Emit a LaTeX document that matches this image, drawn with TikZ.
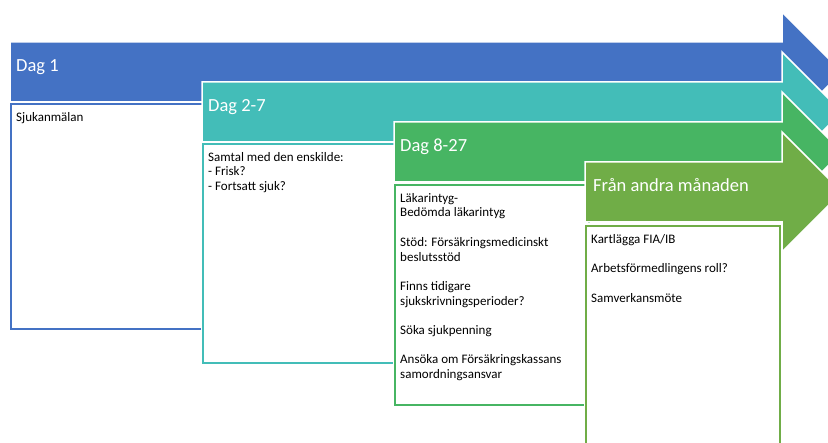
\documentclass[tikz,border=0pt]{standalone}
\usepackage{fontspec}
\setmainfont{Carlito}
\definecolor{dagblue}{HTML}{4472C4}
\definecolor{dagteal}{HTML}{43BDB8}
\definecolor{daggreen}{HTML}{47B563}
\definecolor{dagolive}{HTML}{70AD47}

\begin{document}
\begin{tikzpicture}[x=1pt, y=-1pt,
  phase/.style={fill=#1, draw=white, line width=1.5pt, line join=miter},
  stepbox/.style={fill=white, draw=#1, line width=2.5pt,
    preaction={draw=white, line width=5pt}},
  phaselabel/.style={anchor=base west, text=white, inner sep=0pt,
    font=\fontsize{18.5}{22}\selectfont},
  boxtext/.style={anchor=north west, align=left, inner sep=0pt,
    font=\fontsize{13}{14.7}\selectfont}]
  \useasboundingbox (0,0) rectangle (828,443);
  \clip (0,0) rectangle (828,443);

  % dag 1
  \path[phase=dagblue] (10,42) -- (782,42) -- (782,12) -- (842,72)
    -- (782,132) -- (782,102) -- (10,102) -- cycle;
  \node[phaselabel] (dag1) at (16,72) {Dag 1};
  \path[stepbox=dagblue] (11,104) rectangle (205,329);
  \node[boxtext] (sjuk) at (16,112) {Sjukanmälan};

  % dag 2-7
  \path[phase=dagteal] (202,82) -- (782,82) -- (782,52) -- (842,112)
    -- (782,172) -- (782,142) -- (202,142) -- cycle;
  \node[phaselabel] (dag2) at (208,112) {Dag 2-7};
  \path[stepbox=dagteal] (203,144) rectangle (397,363);
  \node[boxtext] (samtal) at (208,152) {Samtal med den enskilde:\\
    - Frisk?\\ - Fortsatt sjuk?};

  % dag 8-27
  \path[phase=daggreen] (394,122) -- (782,122) -- (782,92) -- (842,152)
    -- (782,212) -- (782,182) -- (394,182) -- cycle;
  \node[phaselabel] (dag8) at (400,152) {Dag 8-27};
  \path[stepbox=daggreen] (395,185) rectangle (589,405);
  \node[boxtext] (intyg) at (400,193) {Läkarintyg-\\ Bedömda läkarintyg\\[14.7pt]
    Stöd: Försäkringsmedicinskt\\ beslutsstöd\\[14.7pt]
    Finns tidigare\\ sjukskrivningsperioder?\\[14.7pt]
    Söka sjukpenning\\[14.7pt]
    Ansöka om Försäkringskassans\\ samordningsansvar};

  % andra manaden
  \path[phase=dagolive] (585,162) -- (782,162) -- (782,132) -- (842,192)
    -- (782,252) -- (782,222) -- (585,222) -- cycle;
  \node[phaselabel] (manad) at (593,192) {Från andra månaden};
  \path[stepbox=dagolive] (586,226) rectangle (780,460);
  \node[boxtext] (kartl) at (591,234) {Kartlägga FIA/IB\\[14.7pt]
    Arbetsförmedlingens roll?\\[14.7pt] Samverkansmöte};
\end{tikzpicture}
\end{document}
